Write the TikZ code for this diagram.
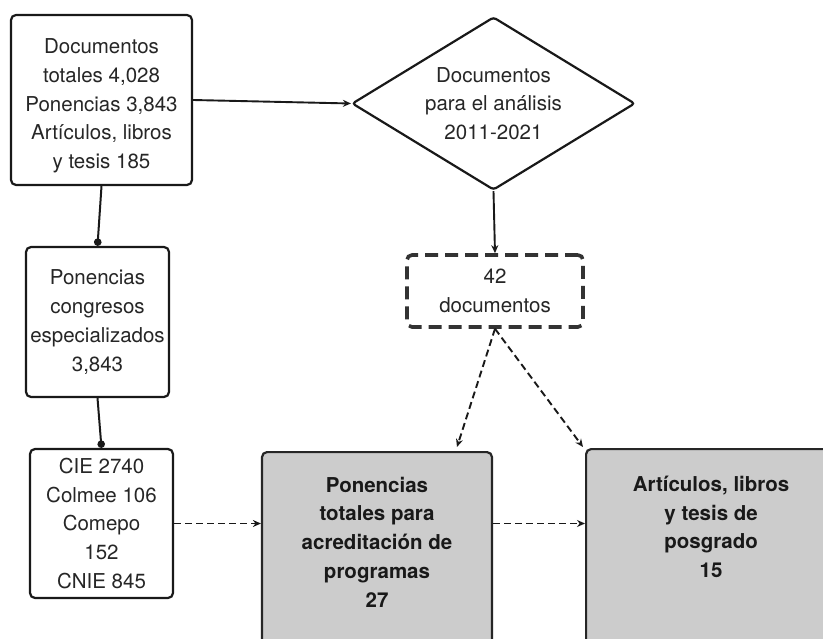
\documentclass[tikz,border=0pt]{standalone}
\usepackage{fontspec}
\setmainfont{TeX Gyre Heros}
\usetikzlibrary{shapes.geometric,arrows.meta}
\begin{document}
\begin{tikzpicture}[x=1pt,y=-1pt,
  txt/.style={font=\fontsize{20.5}{28.7}\selectfont, align=center, text=black!85},
  box/.style={txt, draw=black!90, line width=2.2pt, rounded corners=5pt, inner sep=0pt},
  graybox/.style={draw=black!85, line width=2.2pt, rounded corners=5pt, fill=black!20, inner sep=0pt},
  graytxt/.style={font=\bfseries\fontsize{20.5}{28.7}\selectfont, align=center, text=black!90},
  dbox/.style={txt, draw=black!80, line width=3.6pt, dash pattern=on 13pt off 7pt, rounded corners=5pt, inner sep=0pt},
  arr/.style={line width=1.9pt, draw=black!90, -{Stealth[length=8pt,width=7pt]}},
  darr/.style={line width=1.9pt, draw=black!90, dash pattern=on 7pt off 4pt, -{Stealth[length=8pt,width=7pt]}},
  dotline/.style={line width=2pt, draw=black!90, -{Circle[length=7.5pt]}}
]
\useasboundingbox (0,0) rectangle (823,639);
\fill[white] (0,0) rectangle (823,639);

\node[box, minimum width=181pt, minimum height=170pt,
  label={[txt, anchor=center, yshift=-6pt]center:Documentos\\totales 4,028\\Ponencias 3,843\\Artículos, libros\\y tesis 185}] (b1) at (101.5,100) {};

\node[txt, draw=black!90, line width=2.2pt, diamond, aspect=1.636, inner sep=0pt,
  rounded corners=3pt, minimum width=283pt, minimum height=173pt] (dia) at (493.5,103.5)
  {Documentos\\para el análisis\\2011-2021};

\node[box, minimum width=143pt, minimum height=150pt] (b2) at (97.5,322)
  {Ponencias\\congresos\\especializados\\3,843};

\node[box, minimum width=143pt, minimum height=149pt] (b3) at (101.5,523.5)
  {CIE 2740\\Colmee 106\\Comepo\\152\\CNIE 845};

\node[dbox, minimum width=176pt, minimum height=72pt] (d42) at (495,291)
  {42\\documentos};

\node[graybox, anchor=north, minimum width=230pt, minimum height=240pt,
  label={[graytxt, anchor=center, yshift=-91pt]north:Ponencias\\totales para\\acreditación de\\programas\\27}] (g1) at (377,451) {};

\node[graybox, anchor=north west, minimum width=260pt, minimum height=240pt,
  label={[graytxt, anchor=center, yshift=-79pt, xshift=-5pt]north:Artículos, libros\\y tesis de\\posgrado\\15}] (g2) at (585,448) {};

\coordinate (t1) at (457,447);
\coordinate (t2) at (583,447);

\draw[arr] (b1.east) -- (dia.west);
\draw[dotline] (b1.south) -- (b2.north);
\draw[dotline] (b2.south) -- (b3.north);
\draw[arr] (dia.south) -- (d42.north);
\draw[darr] (d42.south) -- (t1);
\draw[darr] (d42.south) -- (t2);
\draw[darr] (b3.east) -- (b3.east -| g1.west);
\draw[darr] (b3.east -| g1.east) -- (b3.east -| g2.west);
\end{tikzpicture}
\end{document}
